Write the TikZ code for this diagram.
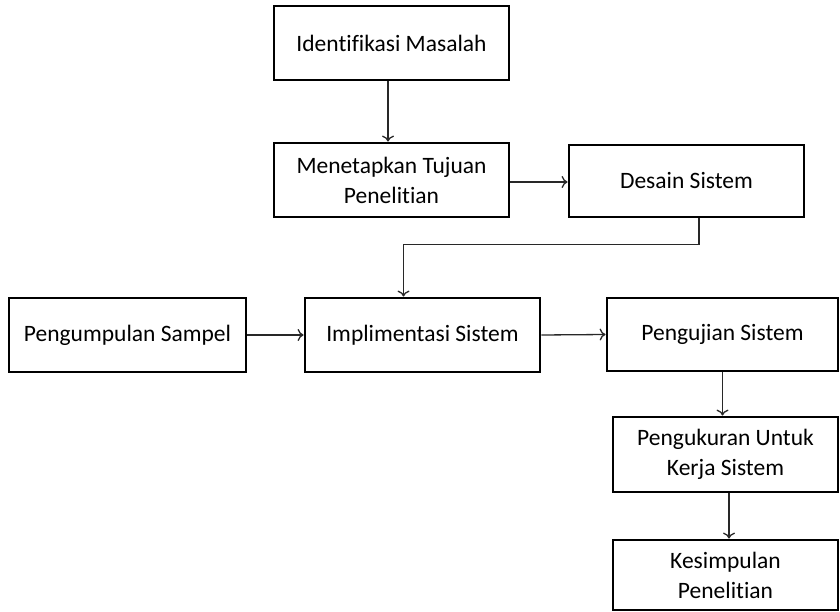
\documentclass[tikz,border=0pt]{standalone}
\usepackage{fontspec}
\setmainfont{Carlito}[Ligatures=NoCommon]
\usepackage{xcolor}
\usetikzlibrary{arrows.meta}
\definecolor{flowline}{RGB}{40, 40, 40}

\tikzset{
    stage/.style={draw=black, line width=2.8pt, inner sep=0pt, align=center,
        font=\fontsize{23.5}{30}\selectfont},
    link/.style={draw=flowline, line width=1.3pt, -{To[length=6pt,width=12pt]}}
}

\begin{document}
\begin{tikzpicture}[x=1pt, y=-1pt]
    % Page area
    \useasboundingbox (0,0) rectangle (840,612);
    
    % Top column
    \node[stage, minimum width=235pt, minimum height=74pt] (ident) at (391.5,43) {Identifikasi Masalah};
    \node[stage, minimum width=235pt, minimum height=74pt] (tujuan) at (391.5,180) {Menetapkan Tujuan\\Penelitian};
    \node[stage, minimum width=235pt, minimum height=72pt] (desain) at (686.5,181) {Desain Sistem};
    
    % Middle row
    \node[stage, minimum width=237pt, minimum height=74pt] (sampel) at (127.5,335) {Pengumpulan Sampel};
    \node[stage, minimum width=235pt, minimum height=74pt] (implementasi) at (422.5,335) {Implimentasi Sistem};
    \node[stage, minimum width=231pt, minimum height=73pt] (pengujian) at (722.5,334.5) {Pengujian Sistem};
    
    % Right column
    \node[stage, minimum width=225pt, minimum height=75pt] (pengukuran) at (725.5,454.5) {Pengukuran Untuk\\Kerja Sistem};
    \node[stage, minimum width=225pt, minimum height=70pt] (kesimpulan) at (725.5,575) {Kesimpulan\\Penelitian};
    
    % Connectors
    \draw[link] ([xshift=-3.5pt]ident.south) -- ([xshift=-3.5pt]tujuan.north);
    \draw[link] ([yshift=-2pt]tujuan.east) -- ([yshift=-2pt]tujuan.east -| desain.west);
    \draw[link] ([xshift=12.5pt]desain.south) -- ++(0,26) -| ([xshift=-19pt]implementasi.north);
    \draw[link] (sampel.east) -- (implementasi.west);
    \draw[link] (implementasi.east) -- (pengujian.west);
    \draw[link] (pengujian.south) -- (pengujian.south |- pengukuran.north);
    \draw[link] ([xshift=3.5pt]pengukuran.south) -- ([xshift=3.5pt]kesimpulan.north);
\end{tikzpicture}
\end{document}
